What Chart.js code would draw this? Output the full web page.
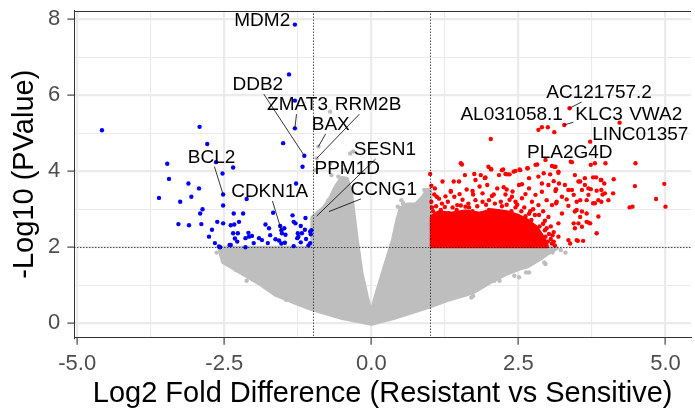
<!DOCTYPE html>
<html><head><meta charset="utf-8">
<script src="https://cdn.jsdelivr.net/npm/chart.js@4/dist/chart.umd.min.js"></script>
<style>html,body{margin:0;padding:0;background:#fff;overflow:hidden}#wrap{width:695px;height:408px}</style>
</head><body><div id="wrap"><canvas id="c" width="695" height="408"></canvas></div>
<script>
// ---------------- data ----------------
const xTickValues = [-5, -2.5, 0, 2.5, 5];
const xTickLabels = ['-5.0', '-2.5', '0.0', '2.5', '5.0'];
const xMinorTicks = [-3.75, -1.25, 1.25, 3.75];
const yTickValues = [0, 2, 4, 6, 8];
const yTickLabels = ['0', '2', '4', '6', '8'];
const yMinorTicks = [1, 3, 5, 7];
const foldCutoffs = [-1, 1];
const pCutoff = 2;
const xTitle = 'Log2 Fold Difference (Resistant vs Sensitive)';
const yTitle = '-Log10 (PValue)';

// outline of the dense non-significant (grey) cloud [log2FC, -log10 p]
const nsCloud = [[-1.0,1.98],[-2.58,1.98],[-2.52,1.62],[-2.14,1.27],[-1.91,1.06],[-1.63,0.76],[-1.29,0.54],[-1.0,0.37],
 [-0.51,0.15],[0,-0.01],[0.39,0.15],[1.0,0.45],[1.30,0.62],[1.58,0.75],[1.75,0.84],[2.08,1.14],[2.31,1.32],[2.53,1.45],
 [2.65,1.5],[2.87,1.7],[3.0,1.85],[3.15,1.98],[1.0,1.98],[1.0,3.5],[0.95,3.5],[0.87,3.3],[0.75,3.12],[0.6,3.12],[0.5,3.02],
 [0.45,2.75],[0.37,2.19],[0.23,1.49],[0.06,0.61],[0,0.22],[-0.08,0.7],[-0.17,1.32],[-0.25,2.19],[-0.3,2.8],[-0.35,3.45],
 [-0.42,3.8],[-0.5,3.82],[-0.6,3.6],[-0.7,3.28],[-0.8,3.05],[-0.9,2.92],[-1.0,2.78],[-1.0,1.98]];
// scattered non-significant genes outside the dense cloud
const nsGenes = [[-0.70,5.57],[-0.90,4.65],[-0.93,4.34],[-0.31,4.52],[-0.36,4.47],[-0.96,4.03],[-0.70,4.21],[-0.56,3.86],
 [-0.45,4.03],[-0.68,3.90],[-0.51,3.77],[-0.93,2.82],[-0.72,2.94],[-0.84,2.98],[-0.73,3.24],
 [0.45,3.07],[0.54,3.16],[0.73,2.94],[0.62,2.67],[0.96,3.51],[0.51,3.24],[0.82,3.20],[0.90,3.11],[0.97,3.38],[0.90,3.51],[0.87,3.24],
 [3.22,1.93],[3.08,1.86],[2.85,1.73],[2.96,1.56],[2.68,1.34],[2.51,1.21],[2.18,1.12],[1.73,0.72],[3.30,1.86],[2.94,1.60],
 [2.63,1.34],[2.43,1.25],[2.09,1.12],[1.70,0.68],
 [-2.47,1.60],[-2.63,1.86],[-2.40,1.78],[-2.12,1.12],[-2.57,1.95],[-2.30,1.40],[-1.80,0.95],[-1.45,0.62]];
// significantly down (blue)
const downGenes = [[-1.30,7.86],[-1.40,6.55],[-1.30,5.86],[-1.30,5.13],[-4.58,5.08],[-2.92,5.17],[-2.79,4.72],[-1.50,4.74],
 [-1.14,4.41],[-1.17,4.12],[-3.47,4.20],[-2.64,4.24],[-2.35,4.10],[-2.53,3.94],[-3.44,3.80],[-3.11,3.68],[-2.93,3.55],
 [-1.28,3.68],[-2.52,3.39],[-3.06,3.33],[-3.61,3.30],[-3.25,3.20],[-2.52,3.10],[-2.12,3.27],[-2.87,3.00],[-2.91,2.89],
 [-2.18,2.89],[-1.67,2.91],[-1.34,2.84],[-1.12,2.77],[-3.28,2.61],[-3.10,2.58],[-2.89,2.61],[-2.62,2.67],[-2.52,2.63],
 [-2.39,2.58],[-2.33,2.60],[-2.25,2.67],[-2.71,2.46],[-2.76,2.28],[-2.66,2.11],[-2.57,2.00],[-2.41,2.06],[-2.35,2.37],
 [-2.32,2.23],[-2.27,2.37],[-2.28,2.15],[-2.14,2.24],[-2.14,2.00],[-2.09,2.38],[-2.03,2.30],[-2.00,2.11],[-1.91,2.24],
 [-1.80,2.60],[-1.74,2.50],[-1.72,2.32],[-1.76,2.11],[-1.63,2.21],[-1.55,2.56],[-1.48,2.50],[-1.53,2.45],[-1.52,2.37],
 [-1.57,2.18],[-1.47,2.12],[-1.53,2.10],[-1.46,2.33],[-1.32,2.67],[-1.29,2.63],[-1.20,2.56],[-1.25,2.37],[-1.26,2.24],
 [-1.20,2.13],[-1.32,2.03],[-1.18,2.37],[-1.11,2.22],[-1.04,2.41],[-1.02,2.45],[-1.03,2.34],[-1.07,2.05],[-2.59,2.02],
 [-2.39,2.06],[-2.08,2.28],[-1.86,2.19],[-1.13,2.46],[-1.04,2.11],[-1.24,2.28],[-2.34,2.89]];
// outline of the dense significantly-up (red) block
const upCloud = [[1.03,2.03],[1.03,2.8],[1.15,2.92],[1.35,2.88],[1.6,2.94],[1.85,2.88],[2.05,2.97],[2.3,2.92],[2.5,2.82],
 [2.65,2.7],[2.8,2.52],[2.88,2.34],[2.95,2.16],[2.98,2.03],[1.03,2.03]];
// significantly up (red), scattered
const upGenes = [[2.03,4.85],[2.84,5.09],[2.90,5.16],[3.00,5.16],[3.11,5.03],[3.28,5.22],[3.37,5.66],[4.22,5.28],[3.72,4.78],
 [1.52,4.21],[1.99,4.12],[2.03,4.06],[2.96,4.30],[3.39,4.25],[3.73,4.17],[3.80,4.21],[3.98,4.21],[4.49,4.21],
 [4.48,3.61],[4.98,3.67],[4.84,3.27],[5.0,3.07],[4.39,3.05],[4.44,3.07],[4.12,3.79],[4.11,3.42],[4.03,3.24],[3.91,3.20],
 [3.77,3.16],[3.83,2.37],[3.66,2.67],[3.91,3.77],[3.91,3.51],[3.77,3.84],[3.82,3.84],[3.90,3.77],[3.96,3.68],[3.97,3.42],
 [3.93,3.39],[3.83,3.49],[3.73,3.53],[3.69,3.38],[3.80,3.16],[3.86,2.81],[3.69,2.65],[3.52,2.63],[3.60,2.17],[3.51,2.17],
 [3.46,3.90],[3.18,3.96],[3.13,4.12],[3.19,3.68],[3.29,3.64],[3.41,3.51],[3.32,3.26],[3.24,3.33],[3.14,3.53],[3.14,3.16],
 [3.35,3.09],[3.49,3.20],[3.58,2.94],[3.46,2.94],[3.66,3.24],[3.58,3.51],[3.63,3.64],[3.55,3.73],[3.69,3.55],[3.52,3.73],
 [3.63,3.82],[3.35,3.51],[3.44,3.38],[3.55,3.24],[3.86,3.24],[3.49,2.98],[3.55,2.80],[3.44,2.63],[3.58,2.54],[3.49,2.19],
 [3.38,2.10],[3.72,2.63],[3.66,2.89],[3.35,2.19],[3.18,2.28],[3.07,2.10],[2.96,2.28],[3.46,2.50],[3.24,2.89],[3.01,2.80],
 [3.18,2.63],[1.0,3.93],[1.21,3.73],[1.40,3.73],[1.49,3.73],[1.35,3.46],[1.75,3.93],[1.86,3.90],[1.94,3.84],[2.22,4.03],
 [2.28,3.93],[2.42,3.99],[2.53,4.03],[2.65,4.08],[2.79,4.17],[2.93,3.95],[3.07,4.14],[3.18,3.99],[1.54,4.18],[1.59,3.90],
 [1.77,3.77],[1.93,3.82],[2.04,4.05],[2.24,4.05],[2.31,3.92],[2.45,4.01],[2.52,4.05],[2.66,4.08],[2.82,4.18],[3.04,3.92],
 [3.11,4.12],[2.17,3.90],[2.35,3.92],[2.14,3.55],[2.25,3.58],[2.08,3.39],[2.28,3.39],[2.39,3.33],[2.51,3.64],[2.56,3.66],
 [2.68,3.82],[2.84,3.86],[2.90,3.68],[3.01,3.64],[3.10,3.74],[3.13,3.48],[1.07,3.39],[1.11,3.33],[1.35,3.48],[1.41,3.33],
 [1.72,3.48],[1.73,3.39],[1.46,3.11],[1.60,3.07],[1.77,3.24],[1.89,3.20],[2.00,3.24],[1.89,3.42],[1.97,3.64],[2.68,3.55],
 [2.79,3.38],[2.90,3.46],[2.98,3.24],[3.07,3.11],[3.15,3.20],[2.84,3.11],[2.73,3.20],[2.56,3.29],[2.45,3.20],[3.41,4.24],
 [1.03,3.05],[1.20,3.15],[1.30,3.20],[1.55,3.25],[1.65,3.15],[2.05,3.35],[2.20,3.20],[2.35,3.25],[2.60,3.05],[2.70,2.95],
 [2.85,2.85],[2.95,2.70],[3.05,2.55],[3.10,2.40],[3.00,2.15],[3.12,2.05],
 [1.05,2.95],[1.10,3.08],[1.18,2.98],[1.25,3.06],[1.32,2.90],[1.38,3.05],[1.45,2.98],[1.52,3.10],[1.58,2.92],[1.66,3.05],
 [1.72,2.95],[1.80,3.08],[1.88,2.90],[1.95,3.12],[2.00,2.98],[2.10,3.15],[2.15,2.95],[2.22,3.08],[2.30,3.12],[2.38,2.95],
 [2.45,3.05],[2.55,2.95],[2.62,2.82],[2.72,2.72],[2.78,2.85],[2.86,2.55],[2.92,2.62],[2.95,2.45],[3.02,2.35],[3.05,2.22],
 [3.10,2.15],[1.02,3.20],[1.08,3.55],[1.02,3.62],[1.15,3.28],[1.26,3.34],[1.50,3.40],[1.62,3.52],[1.84,3.60],[2.30,3.52],
 [2.40,3.47],[2.62,3.40],[2.75,3.00],[2.92,2.95],[2.98,2.50],[3.08,2.32],[2.68,2.88],[2.48,3.12]];
// labelled genes and the point each label refers to
const geneNames = ['MDM2','DDB2','ZMAT3','RRM2B','BAX','SESN1','PPM1D','CCNG1','BCL2','CDKN1A',
 'AC121757.2','AL031058.1','KLC3','VWA2','LINC01357','PLA2G4D'];
const geneFC = [-1.30,-1.14,-1.30,-0.93,-0.90,-0.93,-0.96,-0.72,-2.52,-1.53,3.37,3.00,3.28,4.22,3.72,3.41];
const geneP  = [7.86,4.41,5.13,4.34,4.65,2.82,4.03,2.94,3.39,2.45,5.66,5.16,5.22,5.28,4.78,4.24];

// ---------------- layout / style (not data) ----------------
const labelLayout = { // text centre in axis units + whether a leader segment is drawn
 MDM2:[-1.855,7.97,false], DDB2:[-1.93,6.27,true], ZMAT3:[-1.255,5.74,true], RRM2B:[-0.056,5.74,true],
 BAX:[-0.69,5.22,true], SESN1:[0.23,4.56,true], PPM1D:[-0.41,4.06,false], CCNG1:[0.21,3.51,true],
 BCL2:[-2.716,4.36,true], CDKN1A:[-1.728,3.455,true], 'AC121757.2':[3.872,6.06,true], 'AL031058.1':[2.385,5.495,false],
 KLC3:[3.872,5.495,true], VWA2:[4.834,5.495,false], LINC01357:[4.573,4.955,false], PLA2G4D:[3.373,4.48,false]
};
const FONT = '"Liberation Sans", Arial, Helvetica, sans-serif';
const GREY = '#BEBEBE', BLUE = '#0000FF', RED = '#FF0000';
const toXY = a => a.map(p => ({x: p[0], y: p[1]}));
const isMajorX = v => xTickValues.some(t => Math.abs(t - v) < 1e-9);
const isMajorY = v => yTickValues.some(t => Math.abs(t - v) < 1e-9);

const overlay = {
 id: 'overlay',
 afterDatasetsDraw(chart) {
  const {ctx, chartArea: a, scales: {x, y}} = chart;
  ctx.save();
  ctx.beginPath(); ctx.rect(a.left, a.top, a.right - a.left, a.bottom - a.top); ctx.clip();
  ctx.strokeStyle = '#000'; ctx.lineWidth = 1; ctx.setLineDash([1, 2]);
  foldCutoffs.forEach(v => {
   const px = Math.round(x.getPixelForValue(v)) + 0.5;
   ctx.beginPath(); ctx.moveTo(px, a.top); ctx.lineTo(px, a.bottom); ctx.stroke();
  });
  const py = Math.round(y.getPixelForValue(pCutoff)) + 0.5;
  ctx.beginPath(); ctx.moveTo(a.left, py); ctx.lineTo(a.right, py); ctx.stroke();
  ctx.restore();

  ctx.save();
  ctx.font = '19px ' + FONT;
  ctx.textAlign = 'center'; ctx.textBaseline = 'middle';
  ctx.fillStyle = '#000'; ctx.strokeStyle = '#000'; ctx.lineWidth = 0.8;
  geneNames.forEach((g, i) => {
   const L = labelLayout[g];
   const cx = x.getPixelForValue(L[0]), cy = y.getPixelForValue(L[1]);
   if (L[2]) {
    const px = x.getPixelForValue(geneFC[i]), py2 = y.getPixelForValue(geneP[i]);
    const w = ctx.measureText(g).width / 2 + 2, h = 9;
    const dx = px - cx, dy = py2 - cy;
    const t = Math.min(Math.abs(dx) > 0 ? w / Math.abs(dx) : 1e9, Math.abs(dy) > 0 ? h / Math.abs(dy) : 1e9);
    if (t < 1) {
     ctx.beginPath(); ctx.moveTo(cx + dx * t, cy + dy * t); ctx.lineTo(px, py2); ctx.stroke();
    }
   }
   ctx.fillText(g, cx, cy);
  });
  ctx.restore();

  ctx.save();
  ctx.strokeStyle = '#333333'; ctx.lineWidth = 1;
  ctx.beginPath(); ctx.moveTo(a.left, Math.round(a.top) + 0.5); ctx.lineTo(a.right, Math.round(a.top) + 0.5); ctx.stroke();
  ctx.restore();
 }
};

const gridColor = '#EBEBEB';
new Chart(document.getElementById('c'), {
 type: 'scatter',
 data: {datasets: [
  {label: 'ns cloud', data: toXY(nsCloud), showLine: true, fill: 'shape', backgroundColor: GREY, borderColor: GREY,
   borderWidth: 4.4, borderJoinStyle: 'round', borderCapStyle: 'round', pointRadius: 0, tension: 0, order: 5},
  {label: 'NS', data: toXY(nsGenes), backgroundColor: GREY, borderWidth: 0, pointRadius: 2.2, order: 4},
  {label: 'Down', data: toXY(downGenes), backgroundColor: BLUE, borderWidth: 0, pointRadius: 2.2, order: 3},
  {label: 'up cloud', data: toXY(upCloud), showLine: true, fill: 'shape', backgroundColor: RED, borderColor: RED,
   borderWidth: 4.4, borderJoinStyle: 'round', borderCapStyle: 'round', pointRadius: 0, tension: 0, order: 2},
  {label: 'Up', data: toXY(upGenes), backgroundColor: RED, borderWidth: 0, pointRadius: 2.2, order: 1}
 ]},
 options: {
  responsive: false, animation: false, devicePixelRatio: 1,
  layout: {padding: {top: 10.7, right: 0, left: 0, bottom: 0}},
  plugins: {legend: {display: false}, tooltip: {enabled: false}},
  scales: {
   x: {
    type: 'linear', min: -5.05, max: 5.434,
    afterBuildTicks: s => { s.ticks = xTickValues.concat(xMinorTicks).sort((a, b) => a - b).map(v => ({value: v})); },
    afterFit: s => { s.height = 70.3; s.paddingLeft = 0; s.paddingRight = 0; s.paddingTop = 0; s.paddingBottom = 0; },
    ticks: {autoSkip: false, maxRotation: 0, color: '#4D4D4D', padding: 6, font: {family: FONT, size: 22},
     callback: v => { const k = xTickValues.findIndex(t => Math.abs(t - v) < 1e-9); return k >= 0 ? xTickLabels[k] : ''; }},
    grid: {color: gridColor, lineWidth: c => isMajorX(c.tick.value) ? 2.2 : 1.1, tickLength: 7,
     tickColor: c => isMajorX(c.tick.value) ? '#333333' : 'rgba(0,0,0,0)', tickWidth: 1.1},
    border: {display: true, color: '#333333', width: 1},
    title: {display: true, text: xTitle, color: '#000', font: {family: FONT, size: 29, lineHeight: 1}, padding: {top: 0, bottom: 0}}
   },
   y: {
    type: 'linear', min: -0.379, max: 8.226,
    afterBuildTicks: s => { s.ticks = yTickValues.concat(yMinorTicks).sort((a, b) => a - b).map(v => ({value: v})); },
    afterFit: s => { s.width = 74.3; s.paddingLeft = 0; s.paddingRight = 0; s.paddingTop = 0; s.paddingBottom = 0; },
    ticks: {autoSkip: false, color: '#4D4D4D', padding: 7, font: {family: FONT, size: 22},
     callback: v => { const k = yTickValues.findIndex(t => Math.abs(t - v) < 1e-9); return k >= 0 ? yTickLabels[k] : ''; }},
    grid: {color: gridColor, lineWidth: c => isMajorY(c.tick.value) ? 2.2 : 1.1, tickLength: 7,
     tickColor: c => isMajorY(c.tick.value) ? '#333333' : 'rgba(0,0,0,0)', tickWidth: 1.1},
    border: {display: true, color: '#333333', width: 1},
    title: {display: true, text: yTitle, color: '#000', font: {family: FONT, size: 29, lineHeight: 1}, padding: {top: 10.5, bottom: 0}}
   }
  }
 },
 plugins: [overlay]
});
</script>
</body></html>
